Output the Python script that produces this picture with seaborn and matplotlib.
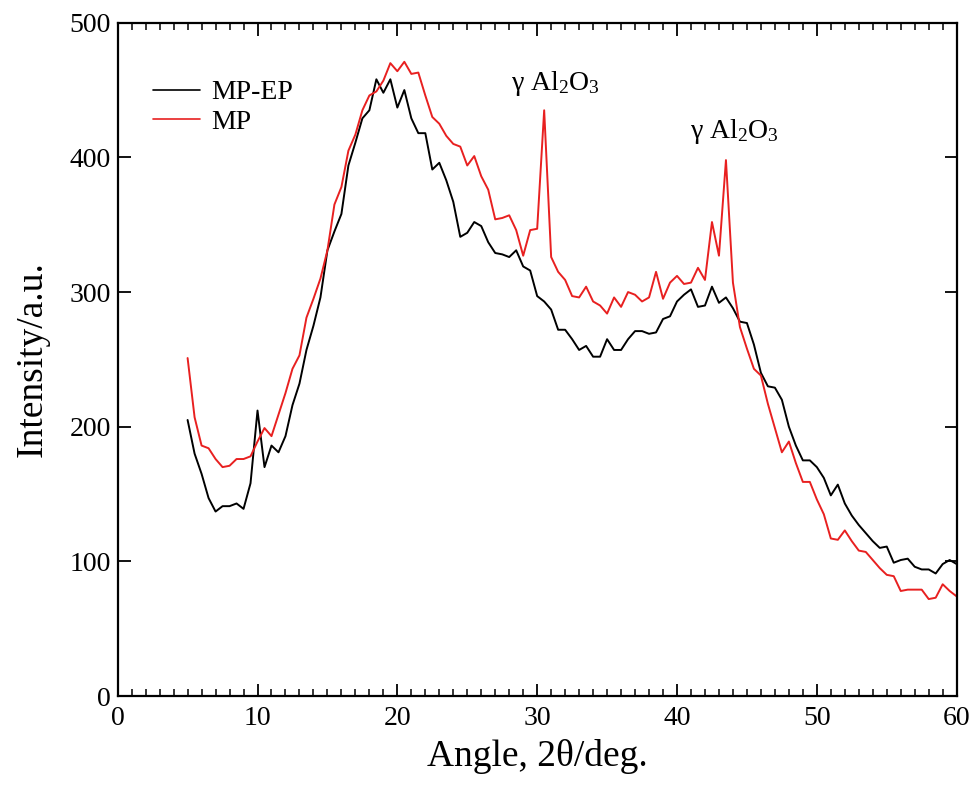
import numpy as np
import pandas as pd
import matplotlib
matplotlib.use("Agg")
import matplotlib.pyplot as plt
from matplotlib.ticker import MultipleLocator
import seaborn as sns

# ---- data ----
angle = np.arange(5.0, 60.01, 0.5)

mp_ep = [
    205, 180, 165, 147, 137, 141, 141, 143, 139, 158,
    212, 170, 186, 181, 193, 216, 232, 257, 275, 296,
    331, 345, 358, 394, 411, 429, 435, 458, 448, 458,
    437, 450, 429, 418, 418, 391, 396, 383, 367, 341,
    344, 352, 349, 337, 329, 328, 326, 331, 319, 316,
    297, 293, 287, 272, 272, 265, 257, 260, 252, 252,
    265, 257, 257, 265, 271, 271, 269, 270, 280, 282,
    293, 298, 302, 289, 290, 304, 292, 296, 288, 278,
    277, 261, 240, 230, 229, 220, 200, 186, 175, 175,
    170, 162, 149, 157, 143, 134, 127, 121, 115, 110,
    111, 99, 101, 102, 96, 94, 94, 91, 98, 101, 98,
]

mp = [
    251, 207, 186, 184, 176, 170, 171, 176, 176, 178,
    189, 199, 193, 209, 225, 243, 253, 281, 295, 310,
    331, 365, 378, 405, 417, 435, 446, 449, 457, 470,
    464, 471, 462, 463, 446, 430, 425, 416, 410, 408,
    394, 401, 386, 376, 354, 355, 357, 346, 327, 346,
    347, 435, 326, 315, 309, 297, 296, 304, 293, 290,
    284, 296, 289, 300, 298, 293, 296, 315, 295, 307,
    312, 306, 307, 318, 309, 352, 327, 398, 307, 274,
    258, 243, 238, 217, 199, 181, 189, 173, 159, 159,
    146, 135, 117, 116, 123, 115, 108, 107, 101, 95,
    90, 89, 78, 79, 79, 79, 72, 73, 83, 78, 74,
]

series_names = ["MP-EP", "MP"]
peak_label = "γ Al$_\\mathregular{2}$O$_\\mathregular{3}$"
peak_label_pos = [(31.3, 455), (44.1, 419)]
x_ticks = [0, 10, 20, 30, 40, 50, 60]
y_ticks = [0, 100, 200, 300, 400, 500]

df = pd.DataFrame({
    "Angle": np.concatenate([angle, angle]),
    "Intensity": np.concatenate([mp_ep, mp]),
    "Sample": [series_names[0]] * len(angle) + [series_names[1]] * len(angle),
})

# ---- style ----
sns.set_style("ticks")
plt.rcParams["font.family"] = ["Liberation Serif", "DejaVu Serif"]
plt.rcParams["mathtext.fontset"] = "custom"
plt.rcParams["mathtext.rm"] = "Liberation Serif"
plt.rcParams["mathtext.it"] = "Liberation Serif:italic"
plt.rcParams["mathtext.bf"] = "Liberation Serif:bold"
plt.rcParams["text.color"] = "black"
plt.rcParams["axes.labelcolor"] = "black"
plt.rcParams["xtick.color"] = "black"
plt.rcParams["ytick.color"] = "black"
plt.rcParams["axes.edgecolor"] = "black"

fig = plt.figure(figsize=(9.75, 7.87), dpi=100)
ax = fig.add_axes([0.1207, 0.1156, 0.8605, 0.8555])

palette = {"MP-EP": "black", "MP": "#e82020"}
sns.lineplot(data=df, x="Angle", y="Intensity", hue="Sample",
             hue_order=series_names, palette=palette, estimator=None,
             linewidth=1.4, ax=ax)

ax.set_xlim(0, 60)
ax.set_ylim(0, 500)
ax.set_xticks(x_ticks)
ax.set_yticks(y_ticks)
ax.xaxis.set_minor_locator(MultipleLocator(1))
ax.tick_params(axis="both", which="major", direction="in", length=9,
               width=1.3, labelsize=20, top=True, right=True,
               color="black", labelcolor="black")
ax.tick_params(axis="x", which="major", pad=7)
ax.tick_params(axis="y", which="major", pad=5)
ax.tick_params(axis="x", which="minor", direction="in", length=5,
               width=1.1, top=True, bottom=True, color="black")
for s in ax.spines.values():
    s.set_linewidth(1.6)
    s.set_color("black")

ax.set_xlabel("Angle, 2θ/deg.", fontsize=27, labelpad=6, color="black")
ax.set_ylabel("Intensity/a.u.", fontsize=27, labelpad=14, color="black")

for (px, py) in peak_label_pos:
    ax.text(px, py, peak_label, fontsize=20, ha="center", va="center",
            color="black")

leg = ax.legend(loc="upper left", bbox_to_anchor=(0.042, 0.915),
                frameon=False, fontsize=20, handlelength=1.7,
                handletextpad=0.4, labelspacing=0.15, borderpad=0,
                borderaxespad=0)
for line in leg.get_lines():
    line.set_linewidth(1.2)
for t in leg.get_texts():
    t.set_color("black")

fig.savefig("out.png", dpi=100)
